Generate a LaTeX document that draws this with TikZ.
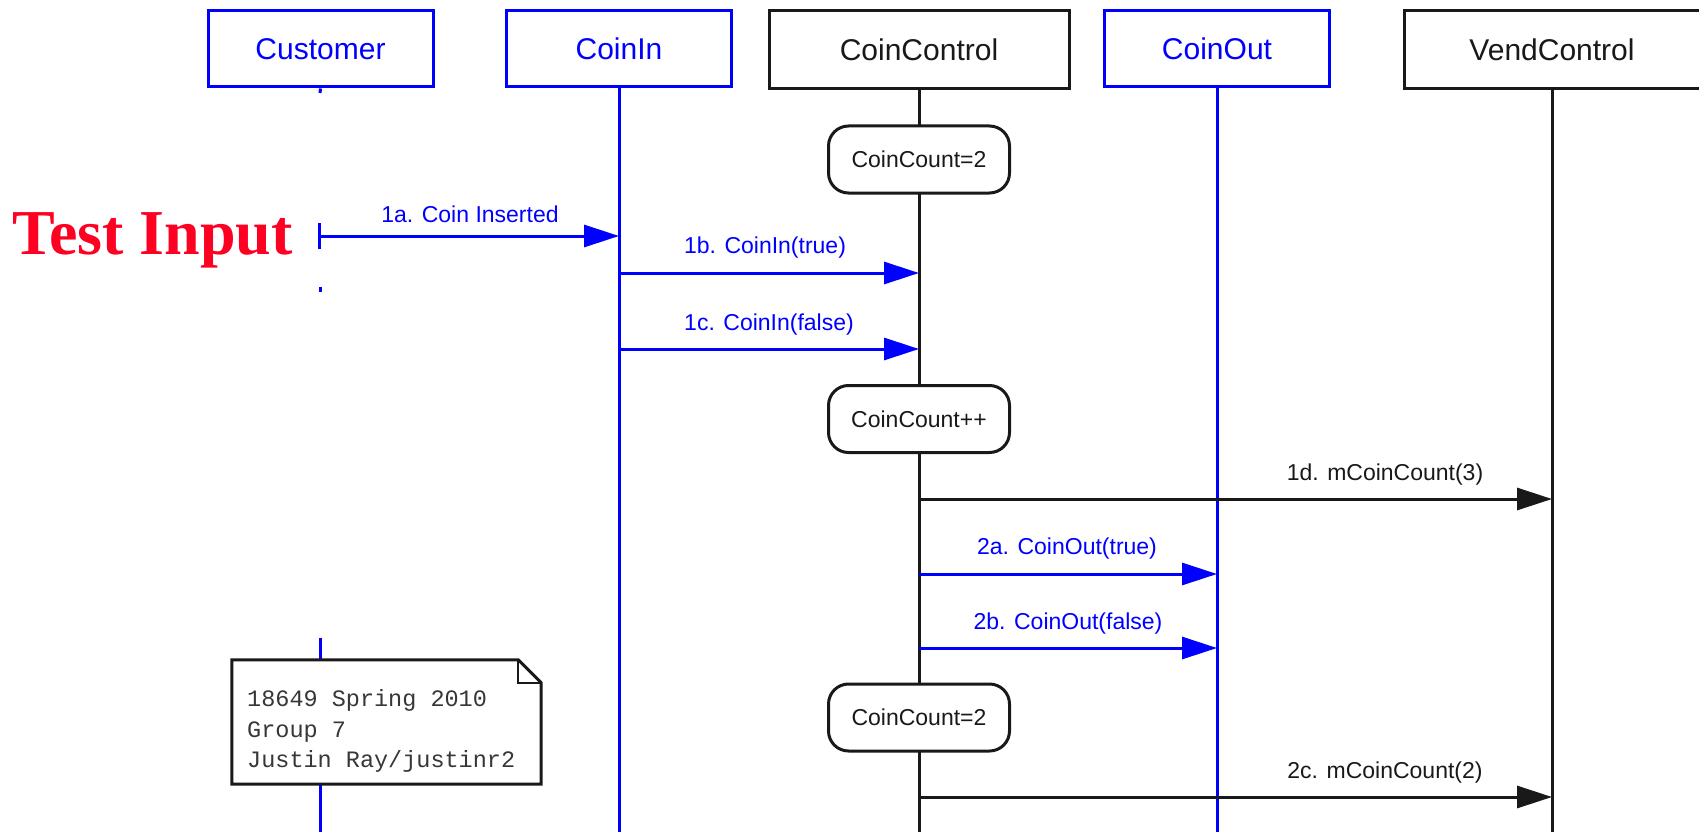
\documentclass[tikz,border=0pt]{standalone}
\usepackage{fontspec}
\setmainfont{Liberation Sans}
\newfontfamily\headfont{Liberation Serif}
\newfontfamily\notefont{Liberation Mono}
\usetikzlibrary{arrows.meta}

\definecolor{umlblue}{RGB}{0,0,255}
\definecolor{umlink}{RGB}{25,25,25}
\definecolor{notegray}{RGB}{55,55,55}
\definecolor{alertred}{RGB}{255,0,35}

\begin{document}
\begin{tikzpicture}[x=1pt,y=-1pt,
  objbox/.style={draw, line width=3pt, fill=white, minimum height=76pt, inner sep=0pt,
                 font=\fontsize{30}{36}\selectfont},
  blueobj/.style={objbox, draw=umlblue, text=umlblue, minimum width=225pt},
  blackobj/.style={objbox, draw=umlink, text=umlink, minimum height=78pt},
  lifeblue/.style={draw=umlblue, line width=3pt},
  lifeblack/.style={draw=umlink, line width=3pt},
  statebox/.style={draw=umlink, line width=3pt, fill=white, rounded corners=20pt,
                   minimum width=181pt, minimum height=67pt, inner sep=0pt,
                   text=umlink, font=\fontsize{23}{28}\selectfont},
  msgblue/.style={draw=umlblue, line width=3pt, -{Triangle[length=35pt,width=22pt]}},
  msgblack/.style={draw=umlink, line width=3pt, -{Triangle[length=35pt,width=22pt]}},
  lblblue/.style={text=umlblue, font=\fontsize{23}{28}\selectfont, inner sep=0pt},
  lblblack/.style={text=umlink, font=\fontsize{23}{28}\selectfont, inner sep=0pt},
  notebox/.style={draw=umlink, line width=3pt, fill=white, line join=miter},
  notetxt/.style={text=notegray, align=left, inner sep=0pt,
                  font=\notefont\fontsize{23.5}{30.5}\selectfont},
]
\useasboundingbox (0,0) rectangle (1699,832);

% object heads
\node[blueobj]  (customer)    at (320.5,49) {Customer};
\node[blueobj]  (coinin)      at (619,49)   {CoinIn};
\node[blackobj, minimum width=300pt] (coincontrol) at (919,50) {CoinControl};
\node[blueobj]  (coinout)     at (1217,49)  {CoinOut};
\node[blackobj, minimum width=296pt] (vendcontrol) at (1552,50) {VendControl};

% lifeline ends
\coordinate (customer-top) at (320,93);
\coordinate (customer-dot1) at (320,287);
\coordinate (customer-dot2) at (320,292);
\coordinate (customer-low) at (320,638);
\coordinate (customer-end) at (320,832);
\coordinate (coinin-end) at (619,832);
\coordinate (coincontrol-end) at (919,832);
\coordinate (coinout-end) at (1217,832);
\coordinate (vendcontrol-end) at (1552,832);

% lifelines
\draw[lifeblue] (customer.south) -- (customer-top);
\draw[lifeblue] (customer-dot1) -- (customer-dot2);
\draw[lifeblue] (customer-low) -- (customer-end);
\draw[lifeblue] (coinin.south) -- (coinin-end);
\draw[lifeblack] (coincontrol.south) -- (coincontrol-end);
\draw[lifeblue] (coinout.south) -- (coinout-end);
\draw[lifeblack] (vendcontrol.south) -- (vendcontrol-end);

% state boxes on CoinControl
\node[statebox] (state1) at (919,159.5) {CoinCount=2};
\node[statebox] (state2) at (919,419)   {CoinCount++};
\node[statebox] (state3) at (919,717.5) {CoinCount=2};

% messages
\draw[msgblue, {Bar[width=26pt]}-{Triangle[length=35pt,width=22pt]}, shorten <=-3pt]
  (customer.south |- 0,236) -- (coinin.south |- 0,236);
\node[lblblue] (l1a) at (470,214) {1a. Coin Inserted};

\draw[msgblue] (coinin.south |- 0,273) -- (coincontrol.south |- 0,273);
\node[lblblue] (l1b) at (765,248) {1b. CoinIn(true)};

\draw[msgblue] (coinin.south |- 0,349) -- (coincontrol.south |- 0,349);
\node[lblblue] (l1c) at (769,325) {1c. CoinIn(false)};

\draw[msgblack] (coincontrol.south |- 0,499) -- (vendcontrol.south |- 0,499);
\node[lblblack] (l1d) at (1385,475) {1d. mCoinCount(3)};

\draw[msgblue] (coincontrol.south |- 0,574) -- (coinout.south |- 0,574);
\node[lblblue] (l2a) at (1067,549) {2a. CoinOut(true)};

\draw[msgblue] (coincontrol.south |- 0,648) -- (coinout.south |- 0,648);
\node[lblblue] (l2b) at (1068,624) {2b. CoinOut(false)};

\draw[msgblack] (coincontrol.south |- 0,797) -- (vendcontrol.south |- 0,797);
\node[lblblack] (l2c) at (1385,773) {2c. mCoinCount(2)};

% note with folded corner
\node[minimum width=309pt, minimum height=124pt, inner sep=0pt] (note) at (386.5,722) {};
\path[notebox] (note.south west) -- (note.north west) -- ([xshift=-23pt]note.north east)
  -- ([yshift=-23pt]note.north east) -- (note.south east) -- cycle;
\draw[draw=umlink, line width=2pt] ([xshift=-23pt]note.north east) |- ([yshift=-23pt]note.north east);
\node[notetxt, anchor=west] (notetext) at (247,731) {18649 Spring 2010\\Group 7\\Justin Ray/justinr2};

% overlay caption
\node[text=alertred, font=\headfont\bfseries\fontsize{64}{70}\selectfont, anchor=base west, inner sep=0pt]
  (testinput) at (12,254) {Test Input};
\end{tikzpicture}
\end{document}
